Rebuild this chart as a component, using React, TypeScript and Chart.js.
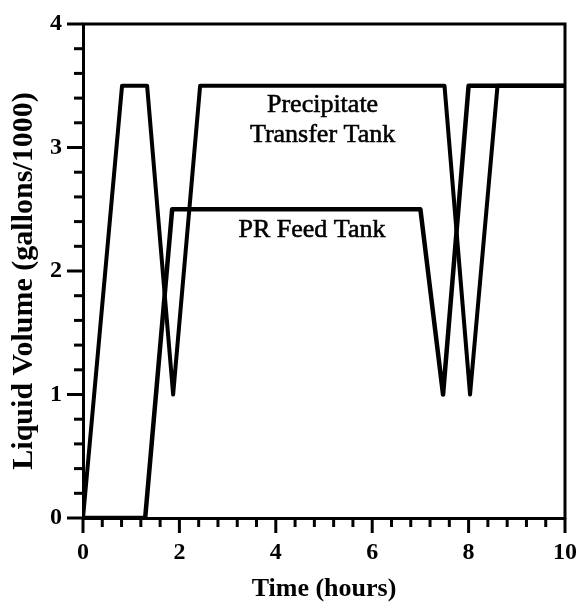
import React, { useEffect, useRef } from "react";
import { Chart, registerables } from "chart.js";

Chart.register(...registerables);

// Precipitate Transfer Tank
const transferTime = [0, 0.81, 1.33, 1.87, 2.43, 7.5, 8.03, 8.6, 10];
const transferVolume = [0, 3.5, 3.5, 1.0, 3.5, 3.5, 1.0, 3.5, 3.5];
// PR Feed Tank
const feedTime = [0, 1.29, 1.85, 7.0, 7.47, 8.0, 10];
const feedVolume = [0, 0, 2.5, 2.5, 1.0, 3.5, 3.5];

const xTickValues = [0, 2, 4, 6, 8, 10];
const yTickValues = [0, 1, 2, 3, 4];
const xMinorStep = 0.4;
const yMinorStep = 0.2;

const xTitle = "Time (hours)";
const yTitle = "Liquid Volume (gallons/1000)";
const transferLabel = ["Precipitate", "Transfer Tank"];
const feedLabel = ["PR Feed Tank"];

const SERIF = "'Liberation Serif', 'Times New Roman', serif";

const decorPlugin = {
  id: "decor",
  afterDraw(chart: any) {
    const { ctx, chartArea: a, scales } = chart;
    const x = scales.x;
    const y = scales.y;
    ctx.save();
    ctx.strokeStyle = "#000";
    ctx.lineCap = "butt";
    // frame (top + right)
    ctx.lineWidth = 3;
    ctx.beginPath();
    ctx.moveTo(a.left - 1, a.top);
    ctx.lineTo(a.right, a.top);
    ctx.lineTo(a.right, a.bottom + 1);
    ctx.stroke();
    // x ticks (outside, below)
    const xMax = xTickValues[xTickValues.length - 1];
    for (let v = 0; v <= xMax + 1e-9; v += xMinorStep) {
      const isMajor = xTickValues.some((t) => Math.abs(t - v) < 1e-6);
      const px = x.getPixelForValue(v);
      ctx.lineWidth = 3;
      ctx.beginPath();
      ctx.moveTo(px, a.bottom);
      ctx.lineTo(px, a.bottom + (isMajor ? 15 : 9));
      ctx.stroke();
    }
    // y ticks (outside, left)
    const yMax = yTickValues[yTickValues.length - 1];
    for (let v = 0; v <= yMax + 1e-9; v += yMinorStep) {
      const isMajor = yTickValues.some((t) => Math.abs(t - v) < 1e-6);
      const py = y.getPixelForValue(v);
      ctx.lineWidth = 3;
      ctx.beginPath();
      ctx.moveTo(a.left, py);
      ctx.lineTo(a.left - (isMajor ? 16 : 9), py);
      ctx.stroke();
    }
    // y axis title
    ctx.fillStyle = "#000";
    ctx.save();
    ctx.translate(24, (a.top + a.bottom) / 2 + 10);
    ctx.rotate(-Math.PI / 2);
    ctx.font = `bold 30px ${SERIF}`;
    ctx.textAlign = "center";
    ctx.textBaseline = "middle";
    ctx.fillText(yTitle, 0, 0);
    ctx.restore();
    // annotations
    ctx.font = `26px ${SERIF}`;
    ctx.textAlign = "center";
    ctx.textBaseline = "middle";
    ctx.lineWidth = 0.6;
    const drawLines = (lines: string[], xv: number, yv: number) => {
      const cx = x.getPixelForValue(xv);
      const cy = y.getPixelForValue(yv);
      const lh = 30;
      lines.forEach((s, i) => {
        const ly = cy + (i - (lines.length - 1) / 2) * lh;
        ctx.fillText(s, cx, ly);
        ctx.strokeText(s, cx, ly);
      });
    };
    drawLines(transferLabel, 4.97, 3.22);
    drawLines(feedLabel, 4.75, 2.33);
    ctx.restore();
  },
};

export default function App() {
  const ref = useRef<HTMLCanvasElement | null>(null);
  useEffect(() => {
    if (!ref.current) return;
    const chart = new Chart(ref.current, {
      type: "line",
      data: {
        datasets: [
          {
            label: "Precipitate Transfer Tank",
            data: transferTime.map((t, i) => ({ x: t, y: transferVolume[i] })),
            borderColor: "#000",
            borderWidth: 4,
            borderJoinStyle: "round",
            pointRadius: 0,
            tension: 0,
            fill: false,
          },
          {
            label: "PR Feed Tank",
            data: feedTime.map((t, i) => ({ x: t, y: feedVolume[i] })),
            borderColor: "#000",
            borderWidth: 4.5,
            borderJoinStyle: "round",
            pointRadius: 0,
            tension: 0,
            fill: false,
          },
        ],
      },
      options: {
        animation: false,
        responsive: false,
        maintainAspectRatio: false,
        layout: { padding: { left: 0, top: 24, right: 15, bottom: 0 } },
        plugins: {
          legend: { display: false },
          tooltip: { enabled: false },
        },
        scales: {
          x: {
            type: "linear",
            min: 0,
            max: 10,
            afterFit: (s: any) => {
              s.height = 84;
              s.paddingLeft = 0;
              s.paddingRight = 0;
            },
            afterBuildTicks: (s: any) => {
              s.ticks = xTickValues.map((v) => ({ value: v }));
            },
            ticks: {
              color: "#000",
              padding: 20,
              maxRotation: 0,
              font: { family: SERIF, size: 24, weight: "bold" },
            },
            grid: { display: false, drawTicks: false },
            border: { display: true, color: "#000", width: 3 },
            title: {
              display: true,
              text: xTitle,
              color: "#000",
              font: { family: SERIF, size: 26, weight: "bold", lineHeight: 1 },
              padding: { top: 0, bottom: 0 },
            },
          },
          y: {
            type: "linear",
            min: 0,
            max: 4,
            afterFit: (s: any) => {
              s.width = 83;
              s.paddingTop = 0;
              s.paddingBottom = 0;
            },
            afterBuildTicks: (s: any) => {
              s.ticks = yTickValues.map((v) => ({ value: v }));
            },
            ticks: {
              color: "#000",
              padding: 21,
              font: { family: SERIF, size: 24, weight: "bold" },
            },
            grid: { display: false, drawTicks: false },
            border: { display: true, color: "#000", width: 3 },
            title: { display: false },
          },
        },
      },
      plugins: [decorPlugin],
    });
    return () => chart.destroy();
  }, []);
  return (
    <div style={{ position: "absolute", left: 0, top: 0, width: 580, height: 602, background: "#fff" }}>
      <canvas ref={ref} width={580} height={602} style={{ display: "block" }} />
    </div>
  );
}
